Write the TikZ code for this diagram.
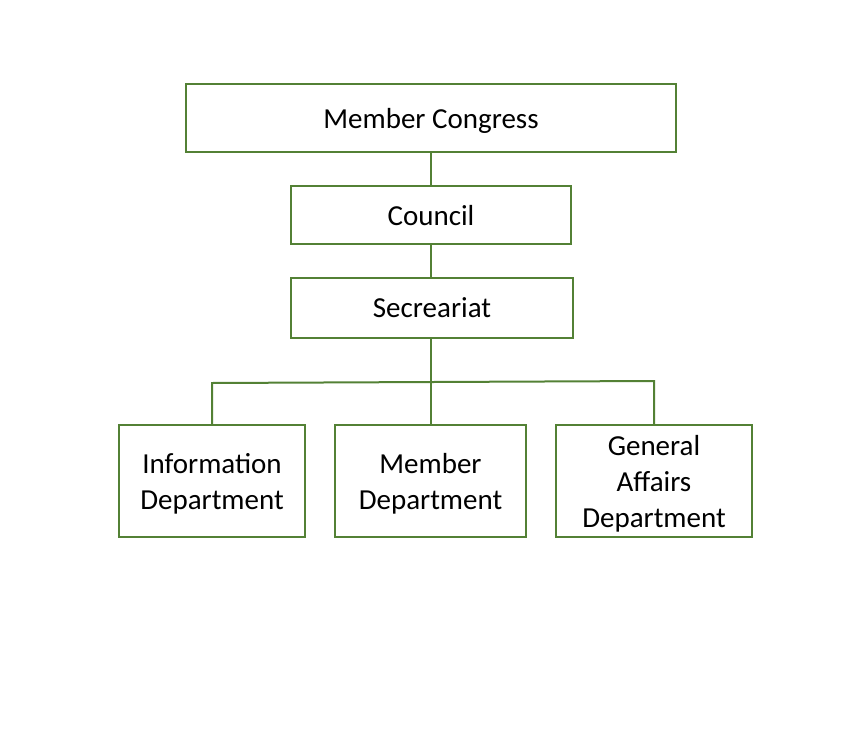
\documentclass[tikz,border=0pt]{standalone}
\usepackage{fontspec}
\setmainfont{Carlito}
\usetikzlibrary{positioning}
\definecolor{leafgreen}{HTML}{538135}
\tikzset{
  orgbox/.style={rectangle, draw=leafgreen, line width=2pt, fill=white,
                 minimum width=#1, inner sep=0pt, text depth=0pt, align=center,
                 font=\fontsize{29}{36}\selectfont},
  orgbox/.default=280pt,
  link/.style={draw=leafgreen, line width=2pt},
}
\begin{document}
\begin{tikzpicture}[x=1pt, y=-1pt]
\useasboundingbox (0,0) rectangle (862,736);
\node[orgbox=490pt, minimum height=68pt] (congress) at (431,118) {Member Congress};
\node[orgbox=280pt, minimum height=58pt] (council) at (431,215) {Council};
\node[orgbox=282pt, minimum height=60pt] (secretariat) at (432,308) {Secreariat};
\node[orgbox=186pt, minimum height=112pt] (infodept) at (212,481) {Information\\Department};
\node[orgbox=191pt, minimum height=112pt] (memberdept) at (430.5,481) {Member\\Department};
\node[orgbox=196pt, minimum height=112pt] (generaldept) at (654,481) {General\\Affairs\\Department};
\coordinate (busleft) at (212,383);
\coordinate (busright) at (654,381);
\draw[link] (congress.south -| council.north) -- (council.north);
\draw[link] (council.south) -- (council.south |- secretariat.north);
\draw[link] (secretariat.south -| memberdept.north) -- (memberdept.north);
\draw[link] (infodept.north) -- (busleft) -- (busright) -- (generaldept.north);
\end{tikzpicture}
\end{document}
